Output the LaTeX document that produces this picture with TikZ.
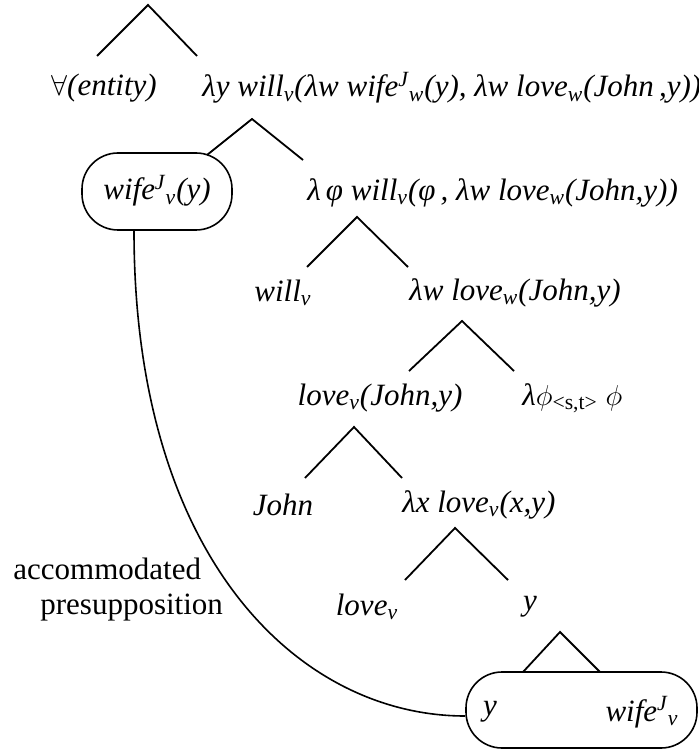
\documentclass[tikz,border=0pt]{standalone}
\usepackage{fontspec}
\setmainfont{Liberation Serif}
\newcommand{\lsub}[1]{\textsubscript{#1}}
\newcommand{\lsup}[1]{\textsuperscript{#1}}
\begin{document}
\fontsize{15.5}{17.5}\selectfont
\begin{tikzpicture}[x=0.5pt, y=-0.5pt,
  lab/.style={inner sep=1pt, font=\itshape},
  branch/.style={line width=0.9pt},
  capsule/.style={draw, line width=0.8pt, rounded corners=18pt, inner sep=0pt}]
\useasboundingbox (0,0) rectangle (699,753);

% tree labels
\node[lab] (forall) at (104,88) {$\forall$(entity)};
\node[lab, anchor=west] (lamy) at (200,88) {λy will\lsub{v}(λw wife\lsup{J}\lsub{w}(y), λw love\lsub{w}(John\,,y))};
\node[capsule, minimum width=75pt, minimum height=38.5pt] (wifebox) at (157,191.5) {};
\node[lab] (wife) at (157,191) {wife\lsup{J}\lsub{v}(y)};
\node[lab, anchor=west] (lamphi) at (305,193) {λ\,φ will\lsub{v}(φ\,, λw love\lsub{w}(John,y))};
\node[lab] (will) at (283,293) {will\lsub{v}};
\node[lab, anchor=west] (lamw) at (407,293) {λw love\lsub{w}(John,y)};
\node[lab] (lovejy) at (380,398) {love\lsub{v}(John,y)};
\node[lab, anchor=west] (lamphist) at (520,398) {λ$\phi$\lsub{\upshape <s,t>} $\phi$};
\node[lab] (john) at (283,505) {John};
\node[lab, anchor=west] (lamx) at (400,505) {λx love\lsub{v}(x,y)};
\node[lab] (lovev) at (367,607) {love\lsub{v}};
\node[lab] (yv) at (530,607) {y};
\node[capsule, minimum width=115.5pt, minimum height=38pt] (ybox) at (581.5,710) {};
\node[lab] (ybot) at (490,712) {y};
\node[lab] (wifebot) at (642,712) {wife\lsup{J}\lsub{v}};

\node[align=left, anchor=west, inner sep=0pt] (accom) at (13,590) {accommodated\\\hspace*{13.5pt}presupposition};

% branch points
\coordinate (t1) at (148,5);   \coordinate (t1l) at (97,56);   \coordinate (t1r) at (197,56);
\coordinate (t2) at (252,119); \coordinate (t2l) at (207,155); \coordinate (t2r) at (303,160);
\coordinate (t3) at (357,217); \coordinate (t3l) at (307,267); \coordinate (t3r) at (408,267);
\coordinate (t4) at (462,321); \coordinate (t4l) at (409,371); \coordinate (t4r) at (514,371);
\coordinate (t5) at (354,427); \coordinate (t5l) at (305,478); \coordinate (t5r) at (402,478);
\coordinate (t6) at (455,528); \coordinate (t6l) at (405,580); \coordinate (t6r) at (508,580);
\coordinate (t7) at (560,632); \coordinate (t7l) at (523,672); \coordinate (t7r) at (600,672);

\draw[branch] (t1l) -- (t1) -- (t1r);
\draw[branch] (t2l) -- (t2) -- (t2r);
\draw[branch] (t3l) -- (t3) -- (t3r);
\draw[branch] (t4l) -- (t4) -- (t4r);
\draw[branch] (t5l) -- (t5) -- (t5r);
\draw[branch] (t6l) -- (t6) -- (t6r);
\draw[branch] (t7l) -- (t7) -- (t7r);

% link of the presupposition
\draw[line width=0.8pt] ([xshift=-11.5pt]wifebox.south) .. controls (134,560) and (300,716) .. ([yshift=-3pt]ybox.west);
\end{tikzpicture}
\end{document}
